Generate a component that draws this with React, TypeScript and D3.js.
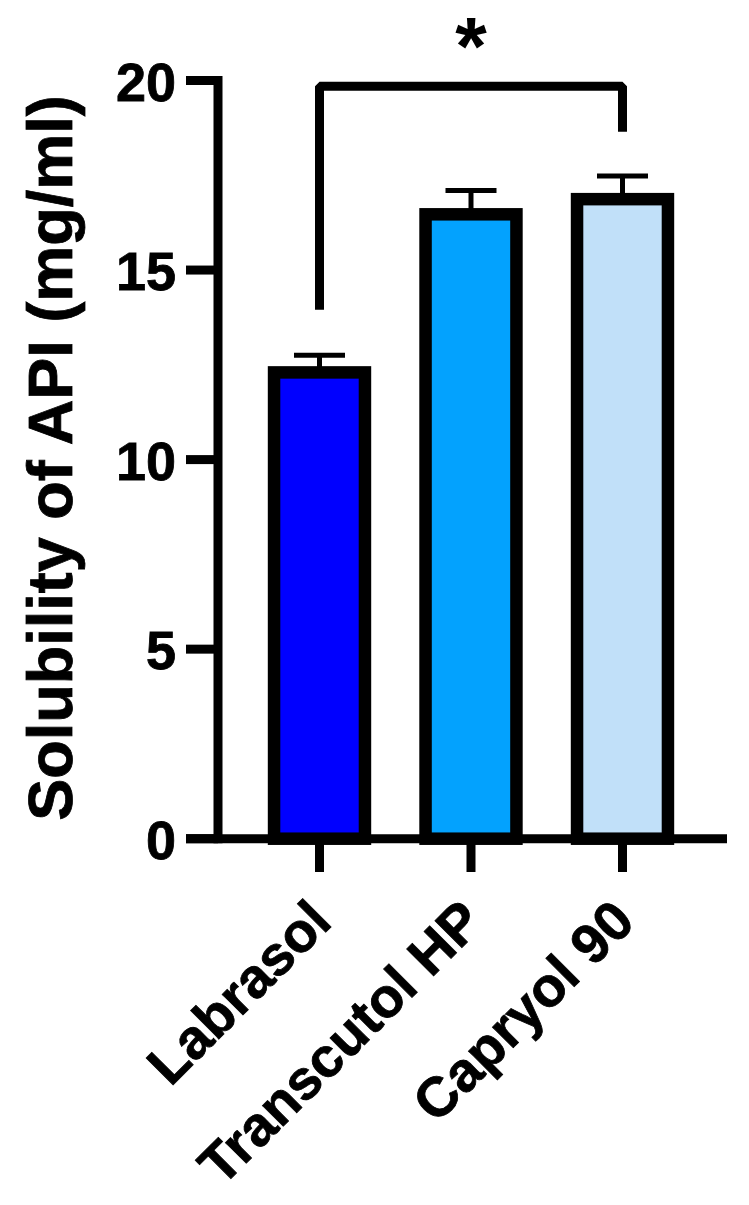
import React from "react";
import * as d3 from "d3";

const categories = ["Labrasol", "Transcutol HP", "Capryol 90"];
const means = [12.3, 16.47, 16.87];
const sds = [0.45, 0.63, 0.61];
const colors = ["#0000FF", "#03A2FE", "#C1E0F9"];
const yTicks = [0, 5, 10, 15, 20];
const yTitle = "Solubility of API (mg/ml)";
// significance bracket between Labrasol and Capryol 90 (in data units)
const bracket = { from: "Labrasol", to: "Capryol 90", top: 19.85, leftEnd: 13.95, rightEnd: 18.65, label: "*" };

const W = 749;
const H = 1205;
const FONT = "'Liberation Sans', Arial, Helvetica, sans-serif";

export default function App() {
  const y = d3.scaleLinear().domain([0, 20]).range([838.7, 80.5]);
  const x = d3
    .scaleBand<string>()
    .domain(categories)
    .range([218, 724])
    .paddingInner(0.4)
    .paddingOuter(0.37);
  const bw = x.bandwidth();
  const axisW = 9;
  const y0 = y(0);
  const cx = (c: string) => (x(c) as number) + bw / 2;
  const textStroke = { stroke: "#000", strokeWidth: 0.8 };

  return (
    <svg
      width={W}
      height={H}
      style={{ position: "absolute", left: 0, top: 0, background: "#fff" }}
      fontFamily={FONT}
      fontWeight="bold"
    >
      <rect width={W} height={H} fill="#fff" />
      {/* bars */}
      {categories.map((c, i) => (
        <g key={c}>
          <line
            x1={cx(c)}
            x2={cx(c)}
            y1={y(means[i])}
            y2={y(means[i] + sds[i])}
            stroke="#000"
            strokeWidth={5}
          />
          <line
            x1={cx(c) - 25.5}
            x2={cx(c) + 25.5}
            y1={y(means[i] + sds[i])}
            y2={y(means[i] + sds[i])}
            stroke="#000"
            strokeWidth={5}
          />
          <rect
            x={x(c)}
            y={y(means[i])}
            width={bw}
            height={y0 - y(means[i])}
            fill={colors[i]}
            stroke="#000"
            strokeWidth={12.5}
          />
        </g>
      ))}
      {/* y axis */}
      <line x1={218} x2={218} y1={y(20) - axisW / 2} y2={y0 + axisW / 2} stroke="#000" strokeWidth={axisW} />
      {yTicks.map((t) => (
        <g key={t}>
          <line x1={186} x2={218} y1={y(t)} y2={y(t)} stroke="#000" strokeWidth={axisW} />
          <text x={176} y={y(t) + 20} textAnchor="end" fontSize={54} fill="#000" {...textStroke}>
            {t}
          </text>
        </g>
      ))}
      {/* x axis */}
      <line x1={186} x2={727} y1={y0} y2={y0} stroke="#000" strokeWidth={axisW} />
      {categories.map((c) => (
        <g key={c}>
          <line x1={cx(c)} x2={cx(c)} y1={y0} y2={872} stroke="#000" strokeWidth={axisW} />
          <text
            transform={`translate(${cx(c) + 14.5},924) rotate(-45)`}
            textAnchor="end"
            fontSize={55.5}
            fill="#000"
            {...textStroke}
          >
            {c}
          </text>
        </g>
      ))}
      {/* y title */}
      <text
        transform={`translate(72,458) rotate(-90)`}
        textAnchor="middle"
        fontSize={63}
        fill="#000"
        {...textStroke}
      >
        {yTitle}
      </text>
      {/* significance bracket */}
      <path
        d={`M${cx(bracket.from)},${y(bracket.leftEnd)} V${y(bracket.top)} H${cx(bracket.to)} V${y(bracket.rightEnd)}`}
        fill="none"
        stroke="#000"
        strokeWidth={9}
        strokeLinejoin="bevel"
      />
      <text
        x={(cx(bracket.from) + cx(bracket.to)) / 2}
        y={74}
        textAnchor="middle"
        fontSize={81}
        fill="#000"
      >
        {bracket.label}
      </text>
    </svg>
  );
}
